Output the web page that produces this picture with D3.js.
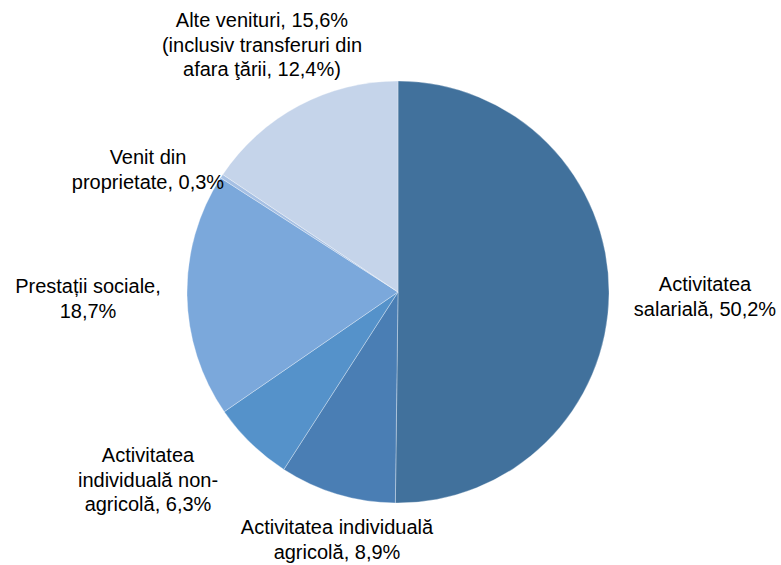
<!DOCTYPE html>
<html><head><meta charset="utf-8">
<script src="https://cdn.jsdelivr.net/npm/d3@7"></script>
<style>body{margin:0;background:#fff}svg{display:block}text{font-family:"Liberation Sans",Arial,sans-serif;fill:#000}</style>
</head><body>
<svg id="c" width="781" height="565"></svg>
<script>
const categories = ["Activitatea salarială","Activitatea individuală agricolă","Activitatea individuală non-agricolă","Prestații sociale","Venit din proprietate","Alte venituri"];
const values = [50.2, 8.9, 6.3, 18.7, 0.3, 15.6];
const labelLines = [
  ["Activitatea","salarială, 50,2%"],
  ["Activitatea individuală","agricolă, 8,9%"],
  ["Activitatea","individuală non-","agricolă, 6,3%"],
  ["Prestații sociale,","18,7%"],
  ["Venit din","proprietate, 0,3%"],
  ["Alte venituri, 15,6%","(inclusiv transferuri din","afara ţării, 12,4%)"]
];
const colors = ["#41719C","#4A7EB4","#5592CA","#7BA8DB","#A6C0E4","#C5D4EA"];
const labelPos = [[705,284],[337,527],[148,455],[88,286],[148,157],[262,20]];

const svg = d3.select("#c");
const cx = 398, cy = 292, R = 211;
const g = svg.append("g").attr("transform",`translate(${cx},${cy})`);
const pie = d3.pie().sort(null).value(d=>d)(values);
const arc = d3.arc().innerRadius(0).outerRadius(R);
g.selectAll("path").data(pie).join("path")
  .attr("d",arc).attr("fill",(d,i)=>colors[i])
  .attr("stroke","rgba(255,255,255,0.45)").attr("stroke-width",0.7);

const lh = 24.5;
labelLines.forEach((lines,i)=>{
  const t = svg.append("text").attr("text-anchor","middle").attr("font-size",20)
    .attr("x",labelPos[i][0]).attr("y",labelPos[i][1]).attr("dominant-baseline","central");
  lines.forEach((l,j)=>t.append("tspan").attr("x",labelPos[i][0]).attr("dy",j===0?0:lh).text(l));
});
</script>
</body></html>
